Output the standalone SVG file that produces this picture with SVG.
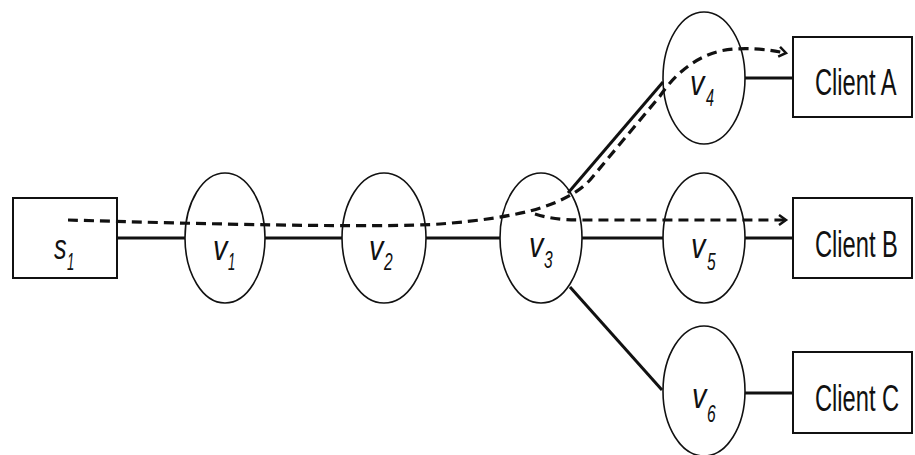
<svg xmlns="http://www.w3.org/2000/svg" width="915" height="455" viewBox="0 0 915 455">
<defs>
<style>
.node{fill:#fff;stroke:#111;stroke-width:1.6}
.box{fill:#fff;stroke:#111;stroke-width:2}
.edge{fill:none;stroke:#111;stroke-width:3}
.flow{fill:none;stroke:#111;stroke-width:3.2;stroke-dasharray:10 6}
.lbl{font-family:"Liberation Sans",Arial,sans-serif;font-style:italic;fill:#111}
.cl{font-family:"Liberation Sans",Arial,sans-serif;font-size:37px;fill:#111}
</style>
<marker id="arr" markerWidth="12" markerHeight="12" refX="9" refY="6" orient="auto" markerUnits="userSpaceOnUse">
<path d="M2,1 L9,6 L2,11" fill="none" stroke="#111" stroke-width="2.5"/>
</marker>
</defs>
<rect width="915" height="455" fill="#fff"/>
<g id="s1"><rect class="box" x="13" y="198" width="104" height="80"/>
<text class="lbl" transform="translate(54,259) scale(0.7,1)" font-size="36">s</text>
<text class="lbl" transform="translate(67,270) scale(0.55,1)" font-size="24">1</text></g>
<g id="v1"><ellipse class="node" cx="225" cy="238" rx="40" ry="65"/>
<text class="lbl" transform="translate(213,260) scale(0.8,1)" font-size="36">v</text>
<text class="lbl" transform="translate(228,270) scale(0.55,1)" font-size="24">1</text></g>
<g id="v2"><ellipse class="node" cx="384" cy="238" rx="42" ry="65"/>
<text class="lbl" transform="translate(369,260) scale(0.8,1)" font-size="36">v</text>
<text class="lbl" transform="translate(384,270) scale(0.65,1)" font-size="24">2</text></g>
<g id="v3"><ellipse class="node" cx="541" cy="238" rx="41" ry="65"/>
<text class="lbl" transform="translate(529,257) scale(0.8,1)" font-size="36">v</text>
<text class="lbl" transform="translate(544,268) scale(0.65,1)" font-size="24">3</text></g>
<g id="v4"><ellipse class="node" cx="704" cy="78" rx="41" ry="66"/>
<text class="lbl" transform="translate(690,95) scale(0.8,1)" font-size="36">v</text>
<text class="lbl" transform="translate(706,106) scale(0.6,1)" font-size="24">4</text></g>
<g id="v5"><ellipse class="node" cx="704" cy="238" rx="41" ry="65"/>
<text class="lbl" transform="translate(691,258) scale(0.8,1)" font-size="36">v</text>
<text class="lbl" transform="translate(707,270) scale(0.65,1)" font-size="24">5</text></g>
<g id="v6"><ellipse class="node" cx="704" cy="391" rx="41" ry="65"/>
<text class="lbl" transform="translate(692,408) scale(0.8,1)" font-size="36">v</text>
<text class="lbl" transform="translate(707,422) scale(0.65,1)" font-size="24">6</text></g>
<g id="clientA"><rect class="box" x="793" y="37" width="119" height="80"/>
<text class="cl" transform="translate(815,95) scale(0.64,1)">Client A</text></g>
<g id="clientB"><rect class="box" x="793" y="198" width="119" height="80"/>
<text class="cl" transform="translate(815,257) scale(0.64,1)">Client B</text></g>
<g id="clientC"><rect class="box" x="793" y="352" width="119" height="81"/>
<text class="cl" transform="translate(815,411) scale(0.64,1)">Client C</text></g>
<g id="connectors">
<path class="edge" d="M117,238 L185,238"/>
<path class="edge" d="M265,238 L342,238"/>
<path class="edge" d="M426,238 L500,238"/>
<path class="edge" d="M582,238 L663,238"/>
<path class="edge" d="M745,238 L793,238"/>
<path class="edge" d="M568,193 L663,82"/>
<path class="edge" d="M570,287 L662,390"/>
<path class="edge" d="M745,78 L793,78"/>
<path class="edge" d="M745,393 L793,393"/>
<path class="flow" d="M68,220 C200,224 380,228 440,224 C480,221 510,216 530,211 C552,205 575,196 590,180 L660,96 C672,78 692,58 720,51 C745,46 770,50 786,53" marker-end="url(#arr)"/>
<path class="flow" d="M535,214 C548,218 560,220 580,220 L786,220" marker-end="url(#arr)"/>
</g>
</svg>
